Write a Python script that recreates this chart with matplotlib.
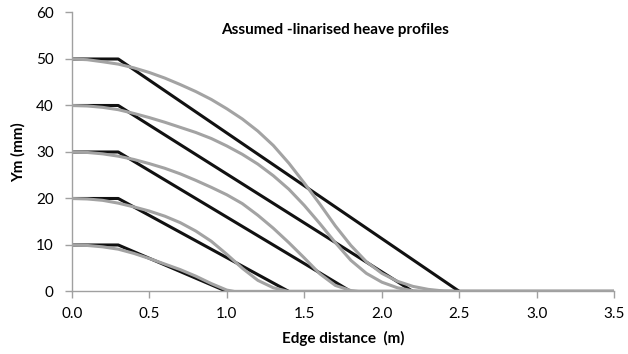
import matplotlib
matplotlib.use("Agg")
from matplotlib import pyplot as plt

# linearised profiles (black): flat to 0.3 m, then straight down to zero
lin_ym = [10, 20, 30, 40, 50]
lin_end = [1.0, 1.4, 1.8, 2.2, 2.5]
flat_len = 0.3
x_max = 3.5

# heave profiles (grey)
heave_x50 = [0, 0.1, 0.2, 0.3, 0.4, 0.5, 0.6, 0.7, 0.8, 0.9, 1.0, 1.1, 1.2, 1.3, 1.4, 1.5,
             1.6, 1.7, 1.8, 1.9, 2.0, 2.1, 2.2, 2.3, 2.4, 2.5, 3.5]
heave_y50 = [50, 49.85, 49.4, 48.9, 48.1, 47.1, 45.9, 44.5, 43.0, 41.3, 39.3, 37.1, 34.5, 31.4, 27.6, 23.3,
             18.8, 14.1, 9.9, 6.4, 3.9, 2.2, 1.1, 0.45, 0.1, 0, 0]
heave_x40 = [0, 0.1, 0.2, 0.3, 0.4, 0.5, 0.6, 0.7, 0.8, 0.9, 1.0, 1.1, 1.2, 1.3, 1.4, 1.5,
             1.6, 1.7, 1.8, 1.9, 2.0, 2.1, 2.2, 2.25, 3.5]
heave_y40 = [40, 39.9, 39.6, 39.1, 38.3, 37.4, 36.4, 35.3, 34.2, 32.9, 31.3, 29.5, 27.4, 24.9, 22.0, 18.5,
             14.6, 10.5, 6.7, 3.9, 2.0, 0.8, 0.15, 0, 0]
heave_x30 = [0, 0.1, 0.2, 0.3, 0.4, 0.5, 0.6, 0.7, 0.8, 0.9, 1.0, 1.1, 1.2, 1.3, 1.4, 1.5,
             1.6, 1.7, 1.8, 1.85, 3.5]
heave_y30 = [30, 29.9, 29.6, 29.1, 28.4, 27.5, 26.5, 25.3, 23.9, 22.4, 20.8, 18.9, 16.4, 13.6, 10.5, 7.2,
             3.8, 1.3, 0.2, 0, 0]
heave_x20 = [0, 0.1, 0.2, 0.3, 0.4, 0.5, 0.6, 0.7, 0.8, 0.9, 1.0, 1.1, 1.2, 1.3, 1.4, 3.5]
heave_y20 = [20, 19.9, 19.6, 19.0, 18.2, 17.3, 16.2, 14.8, 13.0, 10.8, 8.0, 5.0, 2.4, 0.8, 0, 0]
heave_x10 = [0, 0.1, 0.2, 0.3, 0.4, 0.5, 0.6, 0.7, 0.8, 0.9, 1.0, 1.05, 3.5]
heave_y10 = [10, 9.9, 9.6, 9.1, 8.2, 7.1, 5.9, 4.7, 3.3, 1.7, 0.3, 0, 0]

heave = [(heave_x10, heave_y10), (heave_x20, heave_y20), (heave_x30, heave_y30),
         (heave_x40, heave_y40), (heave_x50, heave_y50)]

plt.rcParams['font.family'] = ['Lato', 'DejaVu Sans']

fig = plt.figure(figsize=(6.28, 3.54), dpi=100)
ax = fig.add_axes([0.1142, 0.1766, 0.8643, 0.7881])

grey = '#a3a3a3'
for ym, end in zip(lin_ym, lin_end):
    ax.plot([0, flat_len, end, x_max], [ym, ym, 0, 0], color='#111111', lw=2.2,
            solid_capstyle='butt', zorder=2)
for hx, hy in heave:
    ax.plot(hx, hy, color=grey, lw=2.2, solid_joinstyle='round', zorder=3)

ax.set_xlim(0, 3.5)
ax.set_ylim(0, 60)
ax.set_xticks([0, 0.5, 1.0, 1.5, 2.0, 2.5, 3.0, 3.5])
ax.set_xticklabels([f"{v:.1f}" for v in ax.get_xticks()])
ax.set_yticks(range(0, 61, 10))

for s in ['top', 'right']:
    ax.spines[s].set_visible(False)
for s in ['left', 'bottom']:
    ax.spines[s].set_color('#a0a0a0')
    ax.spines[s].set_linewidth(1.0)
ax.tick_params(axis='both', direction='out', length=5, width=1.0, color='#a0a0a0',
               labelsize=11, labelcolor='#000000')
ax.tick_params(axis='x', pad=6)
ax.tick_params(axis='y', pad=8)

ax.set_xlabel("Edge distance  (m)", fontsize=11, fontweight='bold', labelpad=7)
ax.set_ylabel("Ym (mm)", fontsize=11, fontweight='bold', labelpad=7)
ax.text(1.70, 56.2, "Assumed -linarised heave profiles", fontsize=11, fontweight='bold',
        ha='center', va='center')

fig.savefig("out.png", dpi=100)
